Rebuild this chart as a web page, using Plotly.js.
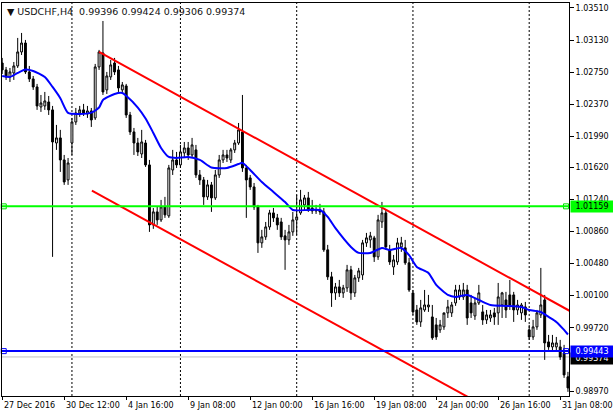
<!DOCTYPE html>
<html><head><meta charset="utf-8">
<script src="https://cdn.plot.ly/plotly-3.0.1.min.js"></script>
<style>html,body{margin:0;padding:0;background:#fff;}#chart{width:613px;height:416px;}</style>
</head><body><div id="chart"></div>
<script>
// ---- data ----
const symbol = "USDCHF,H4";
const headerOHLC = ["0.99396", "0.99424", "0.99306", "0.99374"];
const days = ["27 Dec","28 Dec","29 Dec","30 Dec","2 Jan","3 Jan","4 Jan","5 Jan","6 Jan","9 Jan","10 Jan","11 Jan","12 Jan","13 Jan","16 Jan","17 Jan","18 Jan","19 Jan","20 Jan","23 Jan","24 Jan","25 Jan","26 Jan","27 Jan","30 Jan","31 Jan"];
const fullDay = ["00:00","04:00","08:00","12:00","16:00","20:00"];
const partialDays = {"27 Dec":["20:00"], "30 Dec":["00:00","04:00","08:00","12:00","16:00"], "2 Jan":["08:00","12:00","16:00","20:00"], "31 Jan":["00:00","04:00","08:00","12:00","16:00"]};
const weekStarts = ["2 Jan","9 Jan","16 Jan","23 Jan","30 Jan"];
const tickTimes = ["27 Dec 20:00","30 Dec 12:00","4 Jan 16:00","9 Jan 08:00","12 Jan 00:00","16 Jan 16:00","19 Jan 08:00","24 Jan 00:00","26 Jan 16:00","31 Jan 08:00"];
const tickText = ["27 Dec 2016","30 Dec 12:00","4 Jan 16:00","9 Jan 08:00","12 Jan 00:00","16 Jan 16:00","19 Jan 08:00","24 Jan 00:00","26 Jan 16:00","31 Jan 08:00"];
const priceTicks = [1.03510,1.03130,1.02750,1.02370,1.01990,1.01620,1.01240,1.00860,1.00480,1.00100,0.99720,0.98970];

const open = [
1.02858,1.02776,1.02693,1.02740,1.02823,1.02989,1.03095,1.02752,1.02669,1.02574,
1.02337,1.02349,1.02396,1.02302,1.01910,1.01970,1.01709,1.01472,1.01910,1.02159,
1.02266,1.02302,1.02254,1.02290,1.02207,1.02811,1.02977,1.02539,1.02693,1.02858,
1.02776,1.02539,1.02586,1.02242,1.02041,1.01910,1.01780,1.01910,1.01650,1.00939,
1.01093,1.00998,1.01152,1.01046,1.01590,1.01709,1.01650,1.01792,1.01851,1.01768,
1.01828,1.01531,1.01472,1.01271,1.01413,1.01259,1.01531,1.01709,1.01768,1.01709,
1.01828,1.01910,1.02041,1.01614,1.01496,1.01389,1.01152,1.00726,1.00797,1.00915,
1.01081,1.01022,1.00974,1.00809,1.00761,1.00856,1.00998,1.01081,1.01176,1.01259,
1.01140,1.01105,1.01117,1.01093,1.00643,1.00323,1.00133,1.00204,1.00133,1.00192,
1.00406,1.00133,1.00311,1.00346,1.00726,1.00761,1.00785,1.00560,1.00974,1.01081,
1.00643,1.00441,1.00500,1.00678,1.00667,1.00489,1.00133,0.99931,0.99789,0.99931,
0.99967,0.99848,0.99754,0.99695,0.99730,0.99896,0.99896,1.00014,1.00085,1.00085,
1.00168,1.00014,0.99860,1.00014,0.99908,0.99813,0.99836,0.99896,0.99896,0.99990,
1.00050,1.00109,1.00109,0.99931,0.99896,0.99967,0.99695,0.99611,0.99730,0.99872,
1.00050,0.99552,0.99493,0.99493,0.99493,0.99422,0.99138];
const high = [
1.02918,1.02811,1.02799,1.02870,1.03155,1.03214,1.03131,1.02823,1.02704,1.02610,
1.02479,1.02515,1.02467,1.02349,1.02124,1.02065,1.01768,1.01732,1.02207,1.02325,
1.02349,1.02373,1.02349,1.02325,1.02847,1.03013,1.03356,1.02752,1.02894,1.02918,
1.02823,1.02633,1.02610,1.02278,1.02088,1.01970,1.02065,1.01946,1.01709,1.01140,
1.01152,1.01235,1.01271,1.01650,1.01828,1.01804,1.01887,1.01922,1.01922,1.01970,
1.01887,1.01590,1.01507,1.01472,1.01448,1.01590,1.01768,1.01828,1.01828,1.01851,
1.01946,1.02147,1.02479,1.01650,1.01531,1.01436,1.01176,1.00880,1.00974,1.01117,
1.01140,1.01069,1.01022,1.00880,1.00939,1.01093,1.01294,1.01354,1.01294,1.01330,
1.01235,1.01176,1.01188,1.01140,1.00702,1.00382,1.00251,1.00287,1.00228,1.00465,
1.00453,1.00346,1.00429,1.00761,1.00844,1.00856,1.00809,1.01058,1.01211,1.01117,
1.00702,1.00583,1.00785,1.00797,1.00761,1.00548,1.00168,0.99990,1.00050,1.00168,
1.00109,0.99990,0.99836,0.99813,0.99872,1.00050,1.00026,1.00228,1.00228,1.00251,
1.00228,1.00109,1.00074,1.00228,0.99990,0.99931,0.99931,0.99955,1.00251,1.00145,
1.00145,1.00287,1.00145,1.00050,1.00014,1.00026,0.99754,0.99813,0.99931,1.00429,
1.00109,0.99635,0.99635,0.99611,0.99576,0.99517,0.99197];
const low = [
1.02728,1.02657,1.02633,1.02657,1.02799,1.02953,1.02728,1.02633,1.02539,1.02302,
1.02278,1.02302,1.02242,1.00560,1.01828,1.01567,1.01413,1.01413,1.01768,1.02124,
1.02219,1.02230,1.02207,1.02100,1.02183,1.02776,1.02479,1.02491,1.02657,1.02716,
1.02515,1.02503,1.02207,1.02005,1.01768,1.01756,1.01732,1.01626,1.00856,1.00892,
1.00939,1.00974,1.01022,1.01022,1.01531,1.01614,1.01614,1.01732,1.01709,1.01732,
1.01496,1.01413,1.01176,1.01235,1.01093,1.01235,1.01496,1.01673,1.01685,1.01673,
1.01792,1.01887,1.01567,1.01022,1.01354,1.01117,1.00607,1.00667,1.00761,1.00880,
1.00974,1.00880,1.00761,1.00406,1.00702,1.00809,1.00820,1.01058,1.01117,1.01093,
1.01069,1.01069,1.01058,1.00619,1.00287,0.99967,1.00050,1.00085,1.00074,1.00145,
1.00050,1.00085,1.00263,1.00287,1.00678,1.00667,1.00500,1.00524,1.00903,1.00643,
1.00465,1.00346,1.00465,1.00619,1.00465,1.00145,0.99872,0.99754,0.99730,0.99908,
0.99908,0.99576,0.99576,0.99659,0.99695,0.99836,0.99848,0.99979,1.00050,1.00050,
0.99754,0.99836,0.99813,0.99990,0.99754,0.99765,0.99789,0.99754,0.99754,0.99836,
0.99836,0.99931,0.99789,0.99872,0.99813,0.99789,0.99576,0.99576,0.99695,0.99836,
0.99339,0.99458,0.99434,0.99434,0.99339,0.99126,0.98960];
const close = [
1.02776,1.02693,1.02752,1.02823,1.02989,1.03095,1.02752,1.02669,1.02574,1.02349,
1.02384,1.02408,1.02302,1.01922,1.01970,1.01709,1.01448,1.01673,1.02159,1.02266,
1.02302,1.02266,1.02290,1.02183,1.02811,1.02989,1.02515,1.02704,1.02835,1.02752,
1.02562,1.02598,1.02242,1.02041,1.01910,1.01804,1.01922,1.01650,1.00939,1.01093,
1.00998,1.01152,1.01058,1.01614,1.01709,1.01650,1.01804,1.01851,1.01768,1.01887,
1.01531,1.01472,1.01271,1.01413,1.01259,1.01531,1.01709,1.01768,1.01732,1.01828,
1.01910,1.02065,1.01614,1.01472,1.01389,1.01152,1.00726,1.00797,1.00915,1.01081,
1.01022,1.00939,1.00797,1.00761,1.00856,1.00998,1.01034,1.01235,1.01259,1.01117,
1.01105,1.01117,1.01093,1.00643,1.00323,1.00133,1.00204,1.00133,1.00192,1.00406,
1.00133,1.00311,1.00394,1.00726,1.00785,1.00809,1.00560,1.00998,1.01081,1.00678,
1.00500,1.00524,1.00726,1.00726,1.00489,1.00168,0.99908,0.99789,0.99955,0.99990,
0.99990,0.99600,0.99611,0.99754,0.99896,0.99967,0.99990,1.00168,1.00168,1.00168,
0.99836,0.99896,1.00014,1.00133,0.99813,0.99872,0.99872,0.99848,1.00085,1.00133,
0.99931,0.99990,0.99931,0.99990,0.99990,0.99872,0.99611,0.99730,0.99896,0.99990,
0.99540,0.99493,0.99540,0.99540,0.99374,0.99161,0.99007];

// moving average (bar index, value)
const maBar = [0,2,4,6,8,11,13,15,17,20,23,25,26,29,31,32,35,37,39,41,43,45,48,51,54,58,61,62,64,67,70,73,75,79,82,84,86,90,92,95,98,100,103,105,107,110,112,115,117,120,123,126,130,134,136,139,141,143,145,146];
const maVal = [1.02704,1.02692,1.02740,1.02780,1.02763,1.02692,1.02574,1.02440,1.02266,1.02254,1.02270,1.02330,1.02420,1.02491,1.02503,1.02470,1.02330,1.02200,1.02029,1.01851,1.01744,1.01733,1.01744,1.01709,1.01620,1.01614,1.01660,1.01674,1.01590,1.01448,1.01329,1.01210,1.01116,1.01116,1.01116,1.01033,1.00900,1.00678,1.00607,1.00607,1.00666,1.00642,1.00666,1.00580,1.00441,1.00370,1.00228,1.00109,1.00085,1.00109,1.00050,0.99990,0.99979,0.99967,0.99931,0.99907,0.99848,0.99789,0.99694,0.99640];

// chart objects
const channelUpperBar = [25, 146.4], channelUpperVal = [1.02989, 0.99921];
const channelLowerBar = [23.15, 121], channelLowerVal = [1.01345, 0.98879];
const greenLevel = 1.01159;
const blueLevel = 0.99443;
const bidLevel = 0.99374;

// ---- build ----
const times = [];
days.forEach(d => (partialDays[d] || fullDay).forEach(h => times.push(d + " " + h)));
const idx = times.map((t, i) => i);
const tickIdx = tickTimes.map(t => times.indexOf(t));
const sepIdx = weekStarts.map(d => times.findIndex(t => t.startsWith(d + " ")));
const fmt = v => v.toFixed(5);
const FONT = "DejaVu Sans";

const traces = [
  {type: "candlestick", x: idx, open, high, low, close,
   increasing: {line: {color: "#000", width: 1}, fillcolor: "#fff"},
   decreasing: {line: {color: "#000", width: 1}, fillcolor: "#000"},
   hoverinfo: "skip"},
  {type: "scatter", mode: "lines", x: maBar, y: maVal, line: {color: "#0000ff", width: 2, shape: "spline", smoothing: 0.6}, hoverinfo: "skip"},
  {type: "scatter", mode: "lines", x: channelUpperBar, y: channelUpperVal, line: {color: "#ff0000", width: 2}, hoverinfo: "skip"},
  {type: "scatter", mode: "lines", x: channelLowerBar, y: channelLowerVal, line: {color: "#ff0000", width: 2}, hoverinfo: "skip"},
  {type: "scatter", mode: "markers", x: [0.4, times.length - 1.5, 0.4, times.length - 1.5], y: [greenLevel, greenLevel, blueLevel, blueLevel],
   marker: {symbol: "square-open", size: 5, color: ["#00dd00", "#00dd00", "#0000ff", "#0000ff"], line: {width: 1}}, cliponaxis: false, hoverinfo: "skip"}
];

const shapes = [];
sepIdx.forEach(i => shapes.push({type: "line", xref: "x", yref: "paper", x0: i, x1: i, y0: 0, y1: 1, layer: "below",
  line: {color: "#000", width: 1, dash: "2px,2px"}}));
shapes.push({type: "line", xref: "paper", yref: "y", x0: 0, x1: 1, y0: bidLevel, y1: bidLevel, layer: "below", line: {color: "#c0c0c0", width: 1}});
shapes.push({type: "line", xref: "paper", yref: "y", x0: 0, x1: 1, y0: greenLevel, y1: greenLevel, layer: "above", line: {color: "#00ff00", width: 2}});
shapes.push({type: "line", xref: "paper", yref: "y", x0: 0, x1: 1, y0: blueLevel, y1: blueLevel, layer: "above", line: {color: "#0000ff", width: 2}});

const annotations = [];
tickIdx.forEach((i, k) => annotations.push({xref: "x", yref: "paper", x: i, y: 0, xanchor: "left", yanchor: "top", xshift: 0, yshift: -3,
  text: tickText[k], showarrow: false, font: {family: FONT, size: 8, color: "#000"}}));
annotations.push({xref: "paper", yref: "paper", x: 0, y: 1, xanchor: "left", yanchor: "top", xshift: 3, yshift: -1,
  text: "▼ " + symbol + "  " + headerOHLC.join(" "), showarrow: false, font: {family: FONT, size: 9.5, color: "#111"}});
annotations.push({xref: "paper", yref: "y", x: 1, y: greenLevel, xanchor: "left", yanchor: "middle", xshift: 1, width: 40,
  text: fmt(greenLevel), showarrow: false, bgcolor: "#00ff00", borderpad: 1, font: {family: FONT, size: 8, color: "#000"}});
annotations.push({xref: "paper", yref: "y", x: 1, y: bidLevel, xanchor: "left", yanchor: "middle", xshift: 1, yshift: -2, width: 40,
  text: fmt(bidLevel), showarrow: false, bgcolor: "#000", borderpad: 1, font: {family: FONT, size: 8, color: "#fff"}});
annotations.push({xref: "paper", yref: "y", x: 1, y: blueLevel, xanchor: "left", yanchor: "middle", xshift: 1, width: 40,
  text: fmt(blueLevel), showarrow: false, bgcolor: "#0000ff", borderpad: 1, font: {family: FONT, size: 8, color: "#fff"}});

const layout = {
  width: 613, height: 416,
  margin: {l: 2, r: 44, t: 3, b: 20, pad: 0},
  paper_bgcolor: "#fff", plot_bgcolor: "#fff",
  showlegend: false, hovermode: false,
  xaxis: {type: "linear", range: [-0.05, 146.27], showgrid: false, zeroline: false, rangeslider: {visible: false},
    showline: true, mirror: true, linecolor: "#000", linewidth: 1,
    tickmode: "array", tickvals: tickIdx, ticktext: tickText, showticklabels: false, ticks: "outside", ticklen: 3, tickcolor: "#000"},
  yaxis: {side: "right", range: [0.98911, 1.03569], showgrid: false, zeroline: false,
    showline: true, mirror: true, linecolor: "#000", linewidth: 1,
    tickmode: "array", tickvals: priceTicks, ticktext: priceTicks.map(fmt), ticks: "outside", ticklen: 4, tickcolor: "#000",
    tickfont: {family: FONT, size: 8, color: "#000"}},
  shapes, annotations
};
Plotly.newPlot("chart", traces, layout, {staticPlot: true, displayModeBar: false});
</script></body></html>
